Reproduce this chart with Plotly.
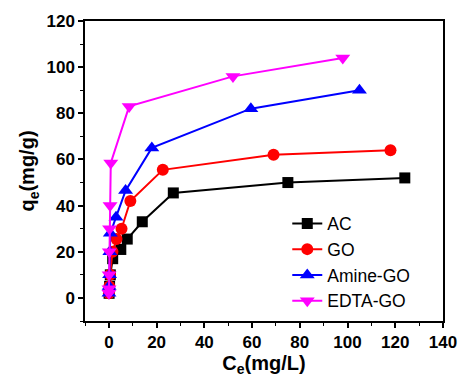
import plotly.graph_objects as go

ac_x = [0.1, 0.3, 0.6, 1.6, 5, 7.7, 14, 27, 75, 124]
ac_y = [2, 5, 10, 17, 21, 25.5, 33, 45.5, 50, 52]
go_x = [0.05, 0.2, 0.5, 1.5, 3.2, 5.3, 9, 22.6, 69, 118]
go_y = [2, 5, 10, 20, 25.5, 30, 42, 55.5, 62, 64]
am_x = [0.05, 0.1, 0.3, 0.4, 0.6, 3, 7, 18, 59.5, 105]
am_y = [2, 5, 10, 20, 28, 35, 46.5, 65, 82, 90]
ed_x = [0.02, 0.05, 0.1, 0.2, 0.3, 0.5, 0.8, 8.5, 52, 98]
ed_y = [2, 4, 10, 20, 30, 40, 58.5, 83, 96, 104]

series = [
    ("AC", ac_x, ac_y, "black", "square", 11),
    ("GO", go_x, go_y, "red", "circle", 12),
    ("Amine-GO", am_x, am_y, "blue", "triangle-up", 13),
    ("EDTA-GO", ed_x, ed_y, "magenta", "triangle-down", 13),
]

fig = go.Figure()
for name, x, y, c, sym, sz in series:
    fig.add_trace(go.Scatter(x=x, y=y, name=name, mode="lines+markers",
                             line=dict(color=c, width=2),
                             marker=dict(symbol=sym, size=sz, color=c, line=dict(width=0))))

font = "Liberation Sans, Arial, sans-serif"
axis_common = dict(showline=True, linecolor="black", linewidth=1.5, mirror=True,
                   ticks="outside", ticklen=5, tickwidth=1.5, tickcolor="black",
                   showgrid=False, zeroline=False,
                   tickfont=dict(family=font, size=17, color="black", weight="bold"),
                   minor=dict(ticks="outside", ticklen=3, tickwidth=1.2, tickcolor="black", dtick=10))

fig.update_xaxes(range=[-10, 140], tick0=0, dtick=20,
                 title=dict(text="<b>C<sub>e</sub>(mg/L)</b>", font=dict(family=font, size=20, color="black"), standoff=4),
                 **axis_common)
fig.update_yaxes(range=[-10, 120], tick0=0, dtick=20,
                 title=dict(text="<b>q<sub>e</sub>(mg/g)</b>", font=dict(family=font, size=20, color="black"), standoff=6),
                 **axis_common)

fig.update_layout(
    width=469, height=382,
    margin=dict(l=85, r=15, t=20, b=59),
    plot_bgcolor="white", paper_bgcolor="white",
    showlegend=True,
    legend=dict(x=0.565, y=0.385, xanchor="left", yanchor="top",
                font=dict(family=font, size=17.5, color="black"),
                bgcolor="rgba(0,0,0,0)", tracegroupgap=0, itemwidth=30),
)

fig.write_html("out.html")
